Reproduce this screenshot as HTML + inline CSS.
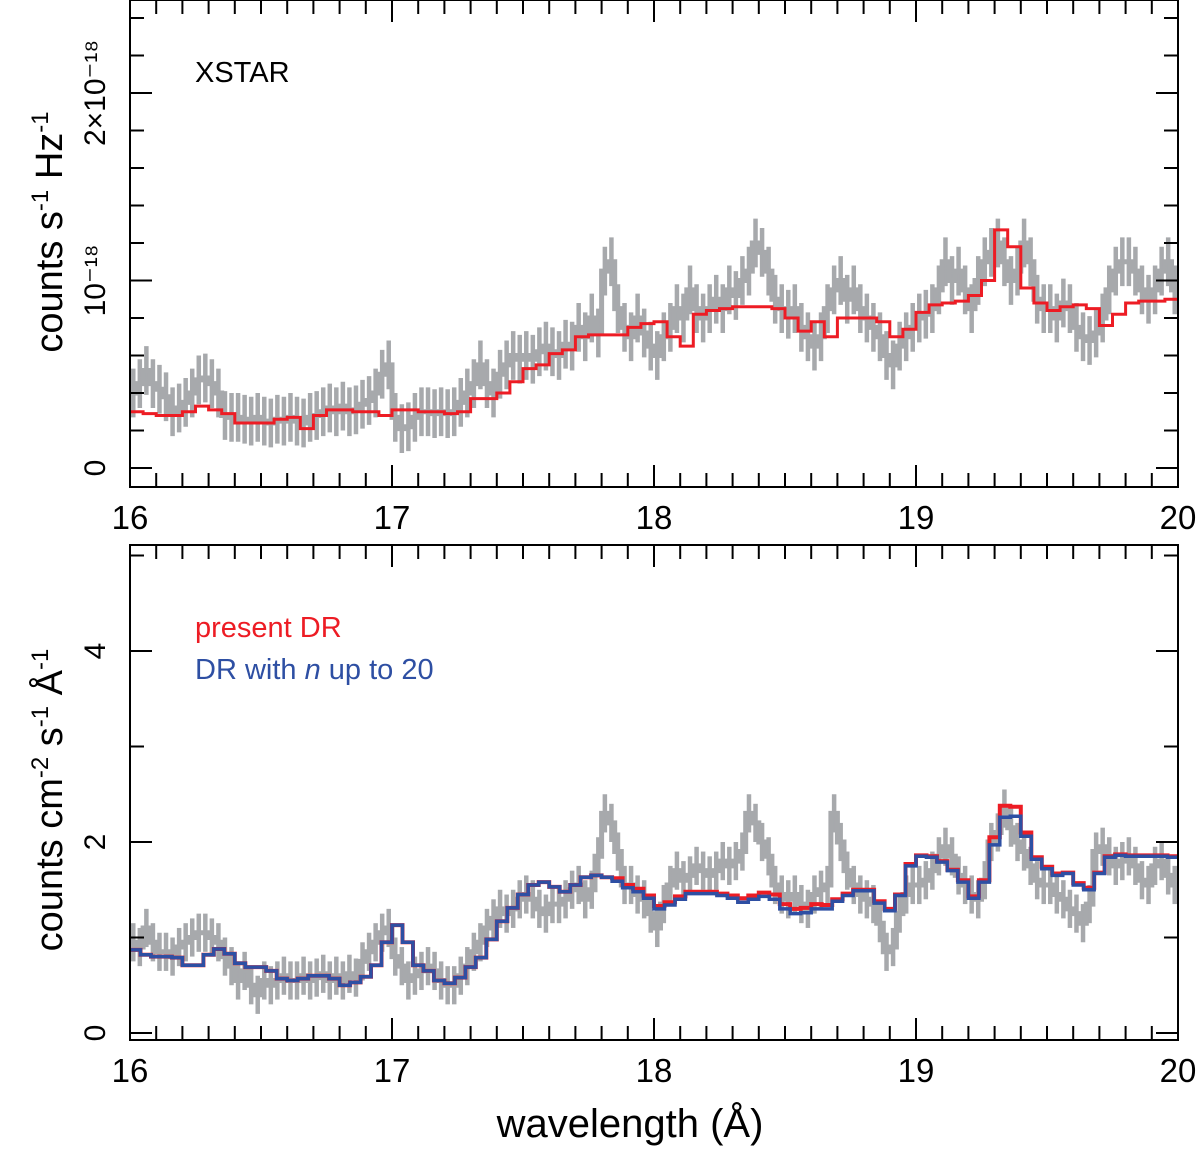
<!DOCTYPE html>
<html><head><meta charset="utf-8"><style>
html,body{margin:0;padding:0;background:#fff;}
svg{display:block;font-family:"Liberation Sans",Arial,sans-serif;}
</style></head><body>
<svg id="chart" width="1200" height="1155" viewBox="0 0 1200 1155" xmlns="http://www.w3.org/2000/svg"></svg>
<script>
// ---- data ----
const xTicks = [16, 17, 18, 19, 20];
const topYTickLabels = ["0", "10\u207B\u00B9\u2078", "2\u00D710\u207B\u00B9\u2078"];
const topYTickValues = [0, 1, 2];
const botYTickValues = [0, 2, 4];
const botYTickLabels = ["0", "2", "4"];
const topData = [.40,.45,.52,.45, .42,.38,.30,.32, .35,.40,.47,.48, .45,.40,.28,.27, .27,.26,.25,.27,
 .25,.24,.26,.25, .27,.25,.24,.27, .28,.30,.32,.30, .33,.30,.31,.34, .36,.40,.50,.55,
 .27,.21,.22,.27, .30,.30,.29,.30, .29,.30,.35,.40, .45,.55,.45,.40, .50,.55,.60,.58,
 .60,.58,.62,.65, .62,.60,.66,.65, .75,.70,.80,.72, 1.05,1.10,.85,.75, .70,.80,.72,.65,
 .60,.70,.75,.85, .80,.95,.85,.80, .85,.90,.85,.95, .92,1.00,1.05,1.20, 1.15,1.05,.90,.85,
 .82,.85,.75,.70, .65,.70,.85,.95, 1.00,.90,.95,.85, .80,.75,.70,.60, .55,.65,.70,.75,
 .80,.82,.85,.95, 1.10,1.00,1.05,.95, .85,1.00,1.10,1.15, 1.20,1.10,1.00,1.05, 1.20,1.10,.90,.85,
 .85,.80,.88,.85, .75,.70,.68,.72, .80,.95,1.05,1.10, 1.10,1.05,.95,.90, .95,1.05,1.10,.95];
const topModel = [.30,.29,.28,.28,.30,.33,.31,.29,.24,.24,.24,.26,.27,.21,.28,.31,.31,.30,.30,.28,
 .31,.31,.30,.30,.29,.30,.37,.37,.40,.46,.53,.55,.61,.63,.70,.71,.71,.71,.75,.77,
 .78,.70,.65,.82,.84,.85,.86,.86,.86,.85,.80,.73,.78,.70,.80,.80,.80,.78,.70,.74,
 .83,.87,.88,.89,.92,1.00,1.27,1.18,.96,.88,.84,.86,.87,.85,.76,.82,.88,.89,.89,.90];
const botData = [.95,.90,1.10,.95, .85,.85,.80,.90, .95,1.00,1.05,1.05, 1.00,.95,.80,.70, .55,.65,.50,.40,
 .55,.50,.55,.60, .55,.55,.60,.55, .58,.62,.55,.60, .55,.62,.58,.75, .85,.95,1.05,1.10,
 .80,.70,.55,.60, .65,.70,.65,.55, .50,.50,.60,.70, .85,.95,1.10,1.20, 1.30,1.25,1.30,1.40,
 1.45,1.40,1.30,1.25, 1.35,1.35,1.40,1.50, 1.55,1.40,1.50,1.85, 2.30,2.20,1.90,1.55, 1.55,1.45,1.40,1.25,
 1.10,1.35,1.55,1.70, 1.60,1.65,1.75,1.70, 1.65,1.70,1.80,1.75, 1.80,1.90,2.30,2.20, 2.00,1.85,1.55,1.45,
 1.40,1.45,1.35,1.30, 1.45,1.50,1.55,2.30, 2.00,1.70,1.55,1.45, 1.40,1.35,1.15,.85, .90,1.25,1.45,1.55,
 1.55,1.60,1.70,1.85, 1.95,1.85,1.65,1.55, 1.45,1.40,1.60,2.00, 2.10,2.35,2.15,2.00, 1.90,1.75,1.60,1.55,
 1.55,1.45,1.40,1.30, 1.25,1.15,1.35,1.90, 1.95,1.85,1.75,1.80, 1.85,1.75,1.60,1.55, 1.75,1.80,1.65,1.55];
const botBlue = [.87,.82,.80,.80,.79,.71,.71,.82,.88,.83,.73,.69,.69,.65,.57,.55,.57,.60,.60,.57,.50,.53,.59,.71,.95,
 1.13,.95,.71,.65,.55,.52,.58,.69,.79,.98,1.17,1.31,1.45,1.55,1.58,1.53,1.48,1.55,1.63,1.65,1.63,1.59,1.52,1.48,1.41,
 1.30,1.34,1.40,1.46,1.46,1.46,1.44,1.41,1.37,1.40,1.43,1.40,1.30,1.25,1.26,1.30,1.30,1.38,1.44,1.49,1.49,1.36,1.28,1.44,1.75,
 1.85,1.84,1.79,1.70,1.58,1.41,1.58,1.97,2.26,2.27,2.06,1.82,1.72,1.65,1.67,1.55,1.50,1.67,1.84,1.86,1.85,1.85,1.85,1.85,1.84];
const botRed = [.87,.82,.80,.80,.79,.71,.71,.82,.88,.83,.73,.69,.69,.65,.57,.55,.57,.60,.60,.57,.50,.53,.59,.71,.95,
 1.13,.95,.71,.65,.55,.52,.58,.69,.79,.98,1.17,1.31,1.45,1.55,1.58,1.53,1.48,1.55,1.63,1.65,1.63,1.62,1.55,1.51,1.44,
 1.33,1.37,1.43,1.48,1.48,1.48,1.46,1.44,1.41,1.44,1.47,1.45,1.35,1.30,1.31,1.35,1.34,1.40,1.46,1.50,1.50,1.38,1.30,1.45,1.77,
 1.86,1.85,1.80,1.71,1.60,1.43,1.60,2.05,2.38,2.37,2.10,1.84,1.74,1.67,1.68,1.57,1.52,1.68,1.85,1.87,1.86,1.86,1.86,1.86,1.85];
const errTop = 0.13, errBot = 0.2;

// ---- layout ----
const NS = "http://www.w3.org/2000/svg";
const svg = document.getElementById("chart");
const X0 = 130, X1 = 1178;
const xs = v => X0 + (v - 16) / 4 * (X1 - X0);
const topY = v => 468 - v * 187.5;
const botY = v => 1033 - v * 95.5;
function mk(tag, attrs, parent) {
  const e = document.createElementNS(NS, tag);
  for (const k in attrs) e.setAttribute(k, attrs[k]);
  (parent || svg).appendChild(e);
  return e;
}
function stepPath(vals, yf) {
  const w = 4 / vals.length; let d = "";
  vals.forEach((v, i) => {
    const a = xs(16 + i * w), b = xs(16 + (i + 1) * w), y = yf(v);
    d += (i ? "L" : "M") + a.toFixed(1) + " " + y.toFixed(1) + "L" + b.toFixed(1) + " " + y.toFixed(1);
  });
  return d;
}
function panel(name, top, bottom, yf, yTickVals, yTickLbls, minorStep, yMax, data, err, models, clipId) {
  const g = mk("g", {});
  
  
  const cp = mk("clipPath", { id: clipId }, g);
  mk("rect", { x: X0, y: top, width: X1 - X0, height: bottom - top }, cp);
  const dg = mk("g", { "clip-path": "url(#" + clipId + ")" }, g);
  const w = 4 / data.length;
  const eg = mk("g", {}, dg);
  
  
  data.forEach((v, i) => {
    const x = xs(16 + (i + 0.5) * w);
    const ln = mk("line", { x1: x, x2: x, y1: yf(v - err), y2: yf(v + err), stroke: "#a7a9ac", "stroke-width": 4.5 }, eg);
    
    
  });
  const dp = mk("path", { d: stepPath(data, yf), fill: "none", stroke: "#a7a9ac", "stroke-width": 5 }, dg);
  
  
  models.forEach(m => {
    const p = mk("path", { d: stepPath(m.vals, yf), fill: "none", stroke: m.color, "stroke-width": m.w }, dg);
    
    
  });
  const fr = mk("rect", { x: X0, y: top, width: X1 - X0, height: bottom - top, fill: "none", stroke: "#000", "stroke-width": 2 }, g);
  
  
  for (let k = 0; k <= 40; k++) {
    const x = xs(16 + k * 0.1), major = k % 10 === 0, L = major ? 22 : 14;
    mk("line", { x1: x, x2: x, y1: bottom, y2: bottom - L, stroke: "#000", "stroke-width": 2 }, g);
    mk("line", { x1: x, x2: x, y1: top, y2: top + L, stroke: "#000", "stroke-width": 2 }, g);
  }
  xTicks.forEach(t => {
    const tx = mk("text", { x: xs(t), y: bottom + 42, "font-size": 33, "text-anchor": "middle" }, g);
    tx.textContent = t;
    
    
  });
  for (let v = 0; v <= yMax + 1e-9; v += minorStep) {
    const y = yf(v); if (y < top) continue;
    const major = yTickVals.some(t => Math.abs(t - v) < 1e-6), L = major ? 22 : 14;
    mk("line", { x1: X0, x2: X0 + L, y1: y, y2: y, stroke: "#000", "stroke-width": 2 }, g);
    mk("line", { x1: X1, x2: X1 - L, y1: y, y2: y, stroke: "#000", "stroke-width": 2 }, g);
  }
  yTickVals.forEach((t, i) => {
    const y = yf(t);
    const tx = mk("text", { x: 0, y: 0, "font-size": 30, "text-anchor": "middle", transform: "translate(105," + y + ") rotate(-90)" }, g);
    tx.textContent = yTickLbls[i];
    
    
  });
}
panel("top-panel", 0, 487, topY, topYTickValues, topYTickLabels, 0.2, 2.6, topData, errTop,
  [{ vals: topModel, color: "#ed1c24", w: 3, name: "xstar-model-line" }], "c1");
panel("bottom-panel", 545, 1040, botY, botYTickValues, botYTickLabels, 1, 5, botData, errBot,
  [{ vals: botRed, color: "#ed1c24", w: 4, name: "present-dr-line" },
   { vals: botBlue, color: "#2e4fa3", w: 3.5, name: "dr-n20-line" }], "c2");
</script>
<svg style="position:absolute;left:0;top:0" width="1200" height="1155">
  <text x="195" y="82" font-size="29" font-family="Liberation Sans, sans-serif">XSTAR</text>
  <text transform="translate(62,232) rotate(-90)" text-anchor="middle" font-size="38" font-family="Liberation Sans, sans-serif">counts s<tspan font-size="24" dy="-14">-1</tspan><tspan dy="14"> Hz</tspan><tspan font-size="24" dy="-14">-1</tspan></text>
  <text transform="translate(62,800) rotate(-90)" text-anchor="middle" font-size="38" font-family="Liberation Sans, sans-serif">counts cm<tspan font-size="24" dy="-14">-2</tspan><tspan dy="14"> s</tspan><tspan font-size="24" dy="-14">-1</tspan><tspan dy="14"> Å</tspan><tspan font-size="24" dy="-14">-1</tspan></text>
  <text x="195" y="637" font-size="29" fill="#ed1c24" font-family="Liberation Sans, sans-serif">present DR</text>
  <text x="195" y="679" font-size="29" fill="#2e4fa3" font-family="Liberation Sans, sans-serif">DR with <tspan font-style="italic">n</tspan> up to 20</text>
  <text x="630" y="1137" text-anchor="middle" font-size="40" font-family="Liberation Sans, sans-serif">wavelength (Å)</text>
</svg>
</body></html>
